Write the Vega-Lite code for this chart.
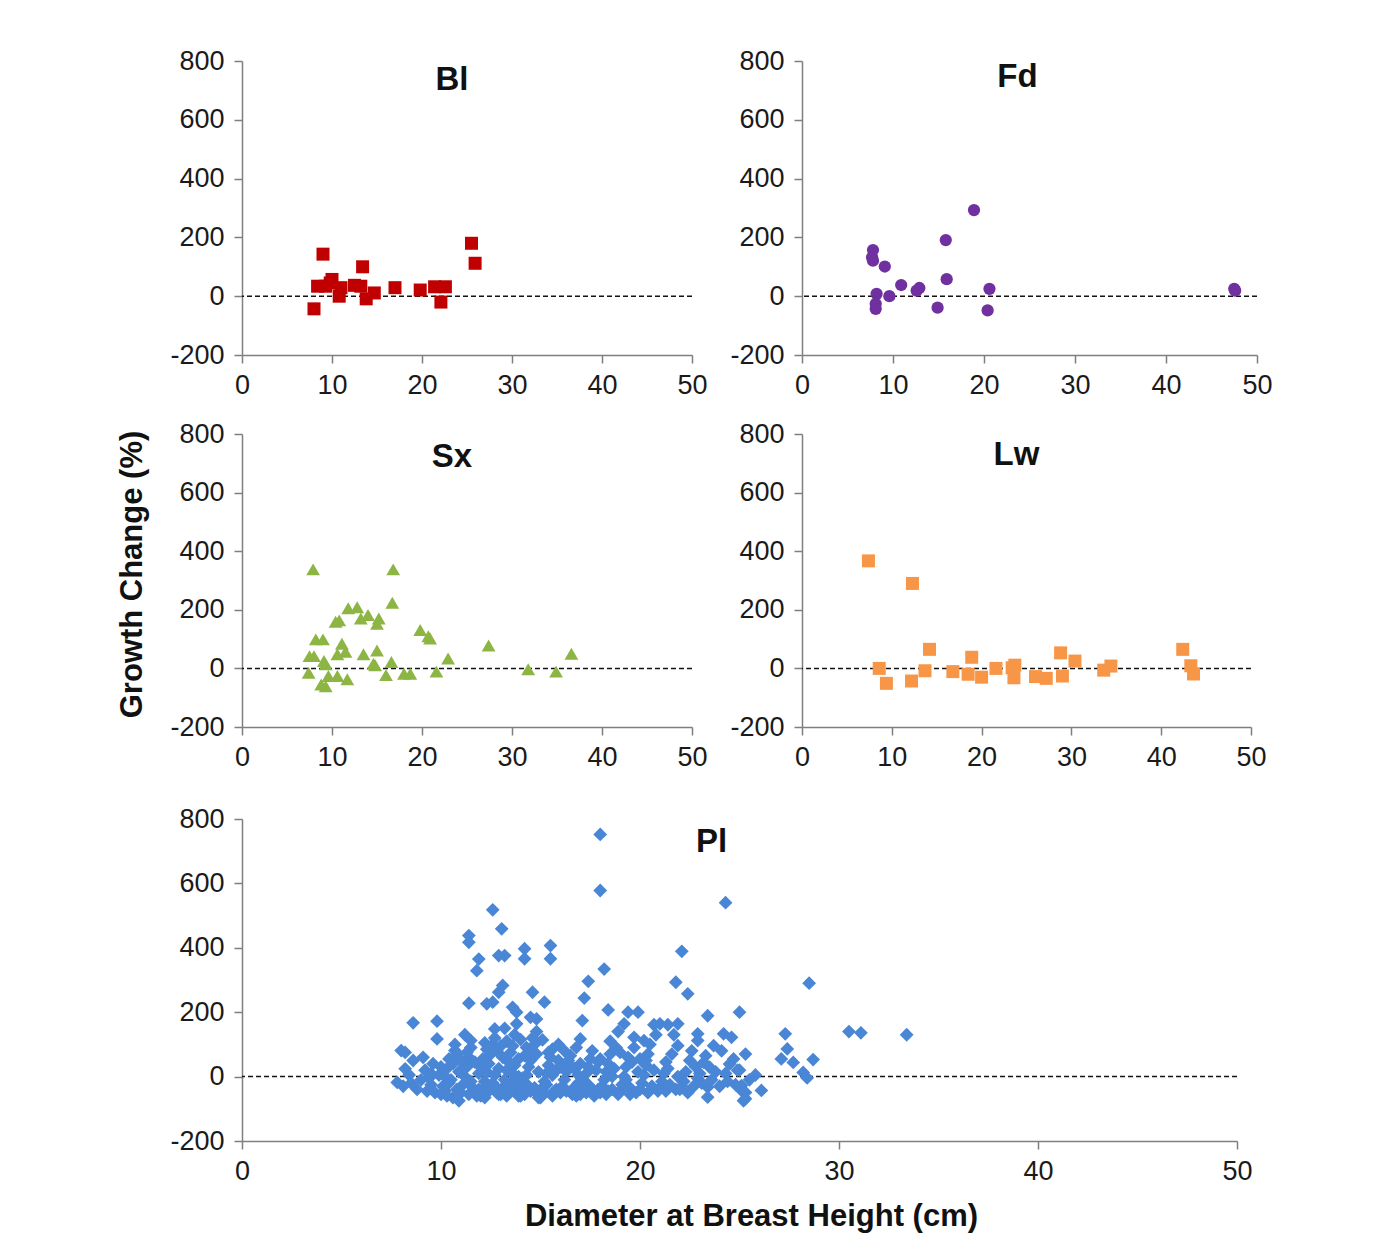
{
  "$schema": "https://vega.github.io/schema/vega-lite/v6.json",
  "background": "white",
  "padding": {"left": 115, "top": 47, "right": 20, "bottom": 20},
  "config": {
    "font": "Liberation Sans",
    "view": {"stroke": null},
    "axis": {"grid": false, "domainColor": "#7f7f7f", "domainWidth": 1.5, "tickColor": "#7f7f7f", "tickWidth": 1.5, "tickSize": 8, "labelFontSize": 27, "labelColor": "#1a1a1a", "labelFlush": false, "titleFontSize": 31, "titleFontWeight": "bold", "titleColor": "#111111"},
    "axisX": {"labelPadding": 9},
    "axisY": {"labelPadding": 10},
    "title": {"fontSize": 33, "fontWeight": "bold", "color": "#111111", "frame": "group", "baseline": "alphabetic"}
  },
  "datasets": {
    "bl": [
      {"dbh": 8.0, "gc": -43}, {"dbh": 9.0, "gc": 143}, {"dbh": 8.4, "gc": 34}, {"dbh": 9.3, "gc": 34}, {"dbh": 10.0, "gc": 57},
      {"dbh": 11.0, "gc": 29}, {"dbh": 10.8, "gc": 0}, {"dbh": 12.5, "gc": 37}, {"dbh": 13.4, "gc": 100}, {"dbh": 13.2, "gc": 34},
      {"dbh": 13.8, "gc": -9}, {"dbh": 14.7, "gc": 11}, {"dbh": 17.0, "gc": 29}, {"dbh": 19.8, "gc": 21}, {"dbh": 21.4, "gc": 32},
      {"dbh": 22.6, "gc": 32}, {"dbh": 22.1, "gc": -20}, {"dbh": 25.5, "gc": 180}, {"dbh": 25.9, "gc": 112}, {"dbh": 9.8, "gc": 45}
    ],
    "fd": [
      {"dbh": 7.8, "gc": 157}, {"dbh": 7.7, "gc": 132}, {"dbh": 7.8, "gc": 121}, {"dbh": 9.1, "gc": 101}, {"dbh": 8.2, "gc": 8},
      {"dbh": 8.1, "gc": -26}, {"dbh": 8.1, "gc": -43}, {"dbh": 9.6, "gc": 0}, {"dbh": 10.9, "gc": 38}, {"dbh": 12.6, "gc": 19},
      {"dbh": 12.9, "gc": 28}, {"dbh": 14.9, "gc": -39}, {"dbh": 15.8, "gc": 191}, {"dbh": 15.9, "gc": 58}, {"dbh": 18.9, "gc": 293},
      {"dbh": 20.6, "gc": 25}, {"dbh": 20.4, "gc": -48}, {"dbh": 47.5, "gc": 25}, {"dbh": 47.6, "gc": 19}
    ],
    "sx": [
      {"dbh": 7.9, "gc": 338}, {"dbh": 16.8, "gc": 338}, {"dbh": 16.7, "gc": 224}, {"dbh": 11.8, "gc": 205}, {"dbh": 12.8, "gc": 209},
      {"dbh": 13.2, "gc": 170}, {"dbh": 14.0, "gc": 182}, {"dbh": 15.2, "gc": 170}, {"dbh": 15.0, "gc": 152}, {"dbh": 10.4, "gc": 159},
      {"dbh": 10.8, "gc": 164}, {"dbh": 8.2, "gc": 99}, {"dbh": 9.0, "gc": 99}, {"dbh": 19.8, "gc": 131}, {"dbh": 20.7, "gc": 110},
      {"dbh": 20.9, "gc": 102}, {"dbh": 11.1, "gc": 84}, {"dbh": 11.5, "gc": 57}, {"dbh": 10.6, "gc": 48}, {"dbh": 7.5, "gc": 42},
      {"dbh": 8.0, "gc": 42}, {"dbh": 13.5, "gc": 48}, {"dbh": 15.0, "gc": 61}, {"dbh": 14.6, "gc": 16}, {"dbh": 14.8, "gc": 11},
      {"dbh": 16.6, "gc": 22}, {"dbh": 9.1, "gc": 25}, {"dbh": 9.3, "gc": 14}, {"dbh": 7.4, "gc": -15}, {"dbh": 9.6, "gc": -26},
      {"dbh": 10.6, "gc": -26}, {"dbh": 8.8, "gc": -55}, {"dbh": 9.3, "gc": -61}, {"dbh": 11.7, "gc": -37}, {"dbh": 16.0, "gc": -23},
      {"dbh": 18.0, "gc": -18}, {"dbh": 18.7, "gc": -18}, {"dbh": 21.6, "gc": -11}, {"dbh": 22.9, "gc": 34}, {"dbh": 27.4, "gc": 78},
      {"dbh": 31.8, "gc": -3}, {"dbh": 34.9, "gc": -11}, {"dbh": 36.6, "gc": 50}
    ],
    "lw": [
      {"dbh": 7.4, "gc": 367}, {"dbh": 12.3, "gc": 290}, {"dbh": 8.6, "gc": 0}, {"dbh": 9.4, "gc": -51}, {"dbh": 12.2, "gc": -43},
      {"dbh": 13.7, "gc": -8}, {"dbh": 14.2, "gc": 65}, {"dbh": 16.8, "gc": -11}, {"dbh": 18.5, "gc": -20}, {"dbh": 18.9, "gc": 38},
      {"dbh": 20.0, "gc": -30}, {"dbh": 21.6, "gc": 0}, {"dbh": 23.4, "gc": 2}, {"dbh": 23.7, "gc": 11}, {"dbh": 23.6, "gc": -32},
      {"dbh": 26.0, "gc": -28}, {"dbh": 27.2, "gc": -34}, {"dbh": 28.8, "gc": 53}, {"dbh": 29.0, "gc": -26}, {"dbh": 30.4, "gc": 25},
      {"dbh": 33.6, "gc": -6}, {"dbh": 34.4, "gc": 8}, {"dbh": 42.4, "gc": 65}, {"dbh": 43.3, "gc": 9}, {"dbh": 43.6, "gc": -19}
    ],
    "pl": [
      {"dbh": 18.0, "gc": 752}, {"dbh": 18.0, "gc": 578}, {"dbh": 24.3, "gc": 540}, {"dbh": 12.6, "gc": 518}, {"dbh": 13.05, "gc": 459},
      {"dbh": 11.4, "gc": 438}, {"dbh": 11.4, "gc": 417}, {"dbh": 11.9, "gc": 365}, {"dbh": 11.8, "gc": 329}, {"dbh": 12.9, "gc": 376},
      {"dbh": 13.2, "gc": 376}, {"dbh": 14.2, "gc": 397}, {"dbh": 14.2, "gc": 366}, {"dbh": 15.5, "gc": 407}, {"dbh": 15.5, "gc": 366},
      {"dbh": 18.2, "gc": 334}, {"dbh": 22.1, "gc": 389}, {"dbh": 21.8, "gc": 293}, {"dbh": 22.4, "gc": 257}, {"dbh": 28.5, "gc": 290},
      {"dbh": 17.4, "gc": 296}, {"dbh": 17.2, "gc": 244}, {"dbh": 17.1, "gc": 174}, {"dbh": 18.4, "gc": 207}, {"dbh": 19.4, "gc": 200},
      {"dbh": 19.9, "gc": 200}, {"dbh": 19.2, "gc": 164}, {"dbh": 13.1, "gc": 283}, {"dbh": 12.9, "gc": 262}, {"dbh": 12.6, "gc": 231},
      {"dbh": 12.3, "gc": 226}, {"dbh": 11.4, "gc": 228}, {"dbh": 13.6, "gc": 215}, {"dbh": 13.8, "gc": 200}, {"dbh": 14.6, "gc": 262},
      {"dbh": 15.2, "gc": 231}, {"dbh": 13.8, "gc": 164}, {"dbh": 14.5, "gc": 184}, {"dbh": 14.8, "gc": 179}, {"dbh": 8.6, "gc": 167},
      {"dbh": 9.8, "gc": 172}, {"dbh": 9.8, "gc": 117}, {"dbh": 8.0, "gc": 81}, {"dbh": 8.2, "gc": 75}, {"dbh": 12.7, "gc": 148},
      {"dbh": 15.1, "gc": 114}, {"dbh": 8.2, "gc": 24}, {"dbh": 7.8, "gc": -18}, {"dbh": 10.9, "gc": -75}, {"dbh": 23.4, "gc": 189},
      {"dbh": 25.0, "gc": 200}, {"dbh": 21.0, "gc": 164}, {"dbh": 21.4, "gc": 161}, {"dbh": 21.9, "gc": 164}, {"dbh": 22.9, "gc": 133},
      {"dbh": 22.9, "gc": 112}, {"dbh": 24.2, "gc": 133}, {"dbh": 24.6, "gc": 122}, {"dbh": 23.7, "gc": 96}, {"dbh": 21.9, "gc": 96},
      {"dbh": 25.3, "gc": 70}, {"dbh": 24.5, "gc": 39}, {"dbh": 23.2, "gc": 44}, {"dbh": 23.5, "gc": 29}, {"dbh": 23.4, "gc": -33},
      {"dbh": 23.4, "gc": -64}, {"dbh": 25.1, "gc": -43}, {"dbh": 25.2, "gc": -75}, {"dbh": 25.3, "gc": -49}, {"dbh": 25.3, "gc": -69},
      {"dbh": 26.1, "gc": -43}, {"dbh": 27.3, "gc": 133}, {"dbh": 27.4, "gc": 86}, {"dbh": 27.1, "gc": 55}, {"dbh": 27.7, "gc": 44},
      {"dbh": 28.7, "gc": 53}, {"dbh": 28.2, "gc": 13}, {"dbh": 28.4, "gc": -4}, {"dbh": 30.5, "gc": 140}, {"dbh": 31.1, "gc": 136},
      {"dbh": 33.4, "gc": 130}, {"dbh": 17.0, "gc": 117}, {"dbh": 18.5, "gc": 110}, {"dbh": 20.7, "gc": 161}, {"dbh": 19.7, "gc": 122},
      {"dbh": 20.2, "gc": 112}, {"dbh": 11.5, "gc": 112}, {"dbh": 10.7, "gc": 81},
      {"dbh": 8.1, "gc": -30}, {"dbh": 8.4, "gc": 5}, {"dbh": 8.6, "gc": 50}, {"dbh": 8.8, "gc": -40}, {"dbh": 9.0, "gc": -10},
      {"dbh": 9.2, "gc": 20}, {"dbh": 9.3, "gc": -45}, {"dbh": 9.5, "gc": -25}, {"dbh": 9.6, "gc": 40}, {"dbh": 9.7, "gc": -50},
      {"dbh": 9.9, "gc": 5}, {"dbh": 9.1, "gc": 60}, {"dbh": 8.5, "gc": -20}, {"dbh": 9.4, "gc": -5},
      {"dbh": 10.0, "gc": -55}, {"dbh": 10.1, "gc": -30}, {"dbh": 10.2, "gc": 0}, {"dbh": 10.3, "gc": 25}, {"dbh": 10.4, "gc": 55},
      {"dbh": 10.5, "gc": -10}, {"dbh": 10.6, "gc": 40}, {"dbh": 10.6, "gc": -65}, {"dbh": 10.7, "gc": 100}, {"dbh": 10.8, "gc": -40},
      {"dbh": 10.9, "gc": 15}, {"dbh": 10.2, "gc": -45}, {"dbh": 10.4, "gc": -20}, {"dbh": 10.8, "gc": 70},
      {"dbh": 11.0, "gc": -50}, {"dbh": 11.1, "gc": -25}, {"dbh": 11.2, "gc": 0}, {"dbh": 11.3, "gc": 30}, {"dbh": 11.4, "gc": 60},
      {"dbh": 11.5, "gc": 90}, {"dbh": 11.6, "gc": -35}, {"dbh": 11.7, "gc": 45}, {"dbh": 11.8, "gc": -60}, {"dbh": 11.9, "gc": 10},
      {"dbh": 11.2, "gc": 130}, {"dbh": 11.5, "gc": -15}, {"dbh": 11.0, "gc": 20}, {"dbh": 11.7, "gc": -45}, {"dbh": 11.3, "gc": 75},
      {"dbh": 12.0, "gc": -60}, {"dbh": 12.1, "gc": -40}, {"dbh": 12.2, "gc": -15}, {"dbh": 12.3, "gc": 15}, {"dbh": 12.4, "gc": 40},
      {"dbh": 12.5, "gc": 70}, {"dbh": 12.6, "gc": 100}, {"dbh": 12.7, "gc": 120}, {"dbh": 12.8, "gc": -50}, {"dbh": 12.9, "gc": 25},
      {"dbh": 12.1, "gc": 55}, {"dbh": 12.3, "gc": 85}, {"dbh": 12.5, "gc": -30}, {"dbh": 12.7, "gc": 5}, {"dbh": 12.9, "gc": -55},
      {"dbh": 12.2, "gc": 105}, {"dbh": 12.6, "gc": -20}, {"dbh": 12.4, "gc": -45},
      {"dbh": 13.0, "gc": -55}, {"dbh": 13.1, "gc": -35}, {"dbh": 13.2, "gc": -10}, {"dbh": 13.3, "gc": 20}, {"dbh": 13.4, "gc": 45},
      {"dbh": 13.5, "gc": 75}, {"dbh": 13.6, "gc": 95}, {"dbh": 13.7, "gc": 130}, {"dbh": 13.8, "gc": -45}, {"dbh": 13.9, "gc": 0},
      {"dbh": 13.1, "gc": 60}, {"dbh": 13.3, "gc": 110}, {"dbh": 13.5, "gc": -20}, {"dbh": 13.7, "gc": 35}, {"dbh": 13.2, "gc": 150},
      {"dbh": 13.9, "gc": -60}, {"dbh": 13.4, "gc": -50}, {"dbh": 13.6, "gc": 10},
      {"dbh": 14.0, "gc": -60}, {"dbh": 14.1, "gc": -40}, {"dbh": 14.2, "gc": -20}, {"dbh": 14.3, "gc": 5}, {"dbh": 14.4, "gc": 30},
      {"dbh": 14.5, "gc": 50}, {"dbh": 14.6, "gc": 80}, {"dbh": 14.7, "gc": 100}, {"dbh": 14.8, "gc": -50}, {"dbh": 14.9, "gc": 15},
      {"dbh": 14.2, "gc": 65}, {"dbh": 14.4, "gc": -30}, {"dbh": 14.6, "gc": 120}, {"dbh": 14.8, "gc": 140}, {"dbh": 14.1, "gc": -5},
      {"dbh": 14.9, "gc": -65}, {"dbh": 14.5, "gc": -45}, {"dbh": 14.3, "gc": 90},
      {"dbh": 15.0, "gc": -55}, {"dbh": 15.1, "gc": -35}, {"dbh": 15.2, "gc": -15}, {"dbh": 15.3, "gc": 10}, {"dbh": 15.4, "gc": 35},
      {"dbh": 15.5, "gc": 60}, {"dbh": 15.6, "gc": 85}, {"dbh": 15.7, "gc": -45}, {"dbh": 15.8, "gc": 20}, {"dbh": 15.9, "gc": 50},
      {"dbh": 15.3, "gc": -25}, {"dbh": 15.6, "gc": 5}, {"dbh": 15.0, "gc": -65}, {"dbh": 15.8, "gc": -40}, {"dbh": 15.4, "gc": 75},
      {"dbh": 16.0, "gc": -50}, {"dbh": 16.1, "gc": -30}, {"dbh": 16.2, "gc": -10}, {"dbh": 16.3, "gc": 15}, {"dbh": 16.4, "gc": 40},
      {"dbh": 16.5, "gc": 65}, {"dbh": 16.6, "gc": -40}, {"dbh": 16.7, "gc": 25}, {"dbh": 16.8, "gc": 90}, {"dbh": 16.9, "gc": -20},
      {"dbh": 16.4, "gc": 50}, {"dbh": 16.0, "gc": 30}, {"dbh": 16.6, "gc": -55},
      {"dbh": 17.0, "gc": -55}, {"dbh": 17.1, "gc": -35}, {"dbh": 17.2, "gc": -15}, {"dbh": 17.3, "gc": 10}, {"dbh": 17.4, "gc": 30},
      {"dbh": 17.5, "gc": 55}, {"dbh": 17.6, "gc": 80}, {"dbh": 17.7, "gc": -45}, {"dbh": 17.8, "gc": 20}, {"dbh": 17.9, "gc": 45},
      {"dbh": 17.4, "gc": -25}, {"dbh": 17.7, "gc": -60},
      {"dbh": 18.0, "gc": -50}, {"dbh": 18.1, "gc": -30}, {"dbh": 18.2, "gc": -10}, {"dbh": 18.3, "gc": 15}, {"dbh": 18.4, "gc": 40},
      {"dbh": 18.5, "gc": 70}, {"dbh": 18.6, "gc": -40}, {"dbh": 18.7, "gc": 25}, {"dbh": 18.8, "gc": 90}, {"dbh": 18.9, "gc": 140},
      {"dbh": 18.3, "gc": -55}, {"dbh": 18.6, "gc": 0},
      {"dbh": 19.0, "gc": -45}, {"dbh": 19.1, "gc": -25}, {"dbh": 19.2, "gc": 0}, {"dbh": 19.3, "gc": 30}, {"dbh": 19.4, "gc": 60},
      {"dbh": 19.5, "gc": -35}, {"dbh": 19.6, "gc": 45}, {"dbh": 19.7, "gc": 90}, {"dbh": 19.8, "gc": -50}, {"dbh": 19.9, "gc": 15},
      {"dbh": 19.3, "gc": -10},
      {"dbh": 20.0, "gc": -40}, {"dbh": 20.1, "gc": -20}, {"dbh": 20.2, "gc": 5}, {"dbh": 20.3, "gc": 35}, {"dbh": 20.4, "gc": 70},
      {"dbh": 20.5, "gc": 100}, {"dbh": 20.6, "gc": -30}, {"dbh": 20.7, "gc": 20}, {"dbh": 20.8, "gc": 130}, {"dbh": 20.9, "gc": -45},
      {"dbh": 20.3, "gc": 50},
      {"dbh": 21.0, "gc": -35}, {"dbh": 21.1, "gc": -15}, {"dbh": 21.2, "gc": 10}, {"dbh": 21.3, "gc": 45}, {"dbh": 21.5, "gc": -25},
      {"dbh": 21.6, "gc": 70}, {"dbh": 21.7, "gc": 130}, {"dbh": 21.8, "gc": -40}, {"dbh": 21.4, "gc": 25}, {"dbh": 21.9, "gc": 0},
      {"dbh": 22.0, "gc": -40}, {"dbh": 22.2, "gc": -15}, {"dbh": 22.3, "gc": 15}, {"dbh": 22.5, "gc": 50}, {"dbh": 22.6, "gc": 80},
      {"dbh": 22.7, "gc": -30}, {"dbh": 22.8, "gc": 30}, {"dbh": 22.4, "gc": -50}, {"dbh": 22.9, "gc": -5},
      {"dbh": 23.0, "gc": 10}, {"dbh": 23.1, "gc": -20}, {"dbh": 23.3, "gc": 65}, {"dbh": 23.6, "gc": -10}, {"dbh": 23.8, "gc": 15},
      {"dbh": 24.0, "gc": -30}, {"dbh": 24.1, "gc": 80}, {"dbh": 24.3, "gc": 10}, {"dbh": 24.4, "gc": -15}, {"dbh": 24.7, "gc": 55},
      {"dbh": 24.8, "gc": -25}, {"dbh": 24.9, "gc": 20}, {"dbh": 25.0, "gc": 20}, {"dbh": 25.1, "gc": -28}, {"dbh": 25.5, "gc": -10},
      {"dbh": 25.8, "gc": 5},
      {"dbh": 10.3, "gc": -60}, {"dbh": 10.9, "gc": -50}, {"dbh": 11.4, "gc": -55}, {"dbh": 11.9, "gc": -40}, {"dbh": 12.2, "gc": -65},
      {"dbh": 12.8, "gc": -35}, {"dbh": 13.3, "gc": -60}, {"dbh": 13.7, "gc": -25}, {"dbh": 14.2, "gc": -55}, {"dbh": 14.7, "gc": -35},
      {"dbh": 15.2, "gc": -50}, {"dbh": 15.6, "gc": -60}, {"dbh": 16.3, "gc": -45}, {"dbh": 16.8, "gc": -60}, {"dbh": 17.3, "gc": -50},
      {"dbh": 17.9, "gc": -40}, {"dbh": 18.4, "gc": -45}, {"dbh": 18.9, "gc": -55}, {"dbh": 19.5, "gc": -55}, {"dbh": 20.4, "gc": -50},
      {"dbh": 21.3, "gc": -45}, {"dbh": 22.1, "gc": -30}, {"dbh": 11.0, "gc": 50}, {"dbh": 12.0, "gc": 30}, {"dbh": 12.8, "gc": 80},
      {"dbh": 13.9, "gc": 55}, {"dbh": 14.8, "gc": 70}, {"dbh": 15.9, "gc": 100}, {"dbh": 16.2, "gc": 80}, {"dbh": 17.0, "gc": 40},
      {"dbh": 18.0, "gc": 55}, {"dbh": 10.0, "gc": 30}, {"dbh": 9.5, "gc": 10}, {"dbh": 13.0, "gc": 95}, {"dbh": 14.0, "gc": 115},
      {"dbh": 16.9, "gc": 5}, {"dbh": 19.0, "gc": 75}, {"dbh": 20.0, "gc": 55}
    ]
  },
  "vconcat": [
    {
      "vconcat": [
        {
          "hconcat": [
            {
              "width": 450, "height": 294,
              "title": {"text": "Bl", "offset": -50, "dx": -15},
              "layer": [
                {"data": {"values": [{}]}, "mark": {"type": "rule", "strokeDash": [5, 3], "color": "#111111", "strokeWidth": 1.5}, "encoding": {"y": {"datum": 0, "type": "quantitative"}}},
                {"data": {"name": "bl"}, "mark": {"type": "square", "color": "#c00000", "size": 169, "opacity": 1},
                 "encoding": {
                   "x": {"field": "dbh", "type": "quantitative", "scale": {"domain": [0, 50], "nice": false}, "axis": {"values": [0, 10, 20, 30, 40, 50], "title": null}},
                   "y": {"field": "gc", "type": "quantitative", "scale": {"domain": [-200, 800], "nice": false}, "axis": {"values": [-200, 0, 200, 400, 600, 800], "title": null, "labelExpr": "datum.value < 0 ? '-' + format(-datum.value, 'd') : format(datum.value, 'd')"}}
                 }}
              ]
            },
            {
              "width": 455, "height": 294,
              "title": {"text": "Fd", "offset": -47, "dx": -12},
              "layer": [
                {"data": {"values": [{}]}, "mark": {"type": "rule", "strokeDash": [5, 3], "color": "#111111", "strokeWidth": 1.5}, "encoding": {"y": {"datum": 0, "type": "quantitative"}}},
                {"data": {"name": "fd"}, "mark": {"type": "circle", "color": "#7030a0", "size": 150, "opacity": 1},
                 "encoding": {
                   "x": {"field": "dbh", "type": "quantitative", "scale": {"domain": [0, 50], "nice": false}, "axis": {"values": [0, 10, 20, 30, 40, 50], "title": null}},
                   "y": {"field": "gc", "type": "quantitative", "scale": {"domain": [-200, 800], "nice": false}, "axis": {"values": [-200, 0, 200, 400, 600, 800], "title": null, "labelExpr": "datum.value < 0 ? '-' + format(-datum.value, 'd') : format(datum.value, 'd')"}}
                 }}
              ]
            }
          ],
          "spacing": 21
        },
        {
          "hconcat": [
            {
              "width": 450, "height": 293,
              "title": {"text": "Sx", "offset": -54, "dx": -15},
              "layer": [
                {"data": {"values": [{}]}, "mark": {"type": "rule", "strokeDash": [5, 3], "color": "#111111", "strokeWidth": 1.5}, "encoding": {"y": {"datum": 0, "type": "quantitative"}}},
                {"data": {"name": "sx"}, "mark": {"type": "point", "shape": "triangle-up", "filled": true, "color": "#8db544", "size": 190, "opacity": 1},
                 "encoding": {
                   "x": {"field": "dbh", "type": "quantitative", "scale": {"domain": [0, 50], "nice": false}, "axis": {"values": [0, 10, 20, 30, 40, 50], "title": null}},
                   "y": {"field": "gc", "type": "quantitative", "scale": {"domain": [-200, 800], "nice": false}, "axis": {"values": [-200, 0, 200, 400, 600, 800], "title": "Growth Change (%)", "titleX": -94, "titleY": 140, "labelExpr": "datum.value < 0 ? '-' + format(-datum.value, 'd') : format(datum.value, 'd')"}}
                 }}
              ]
            },
            {
              "width": 449, "height": 293,
              "title": {"text": "Lw", "offset": -52, "dx": -10},
              "layer": [
                {"data": {"values": [{}]}, "mark": {"type": "rule", "strokeDash": [5, 3], "color": "#111111", "strokeWidth": 1.5}, "encoding": {"y": {"datum": 0, "type": "quantitative"}}},
                {"data": {"name": "lw"}, "mark": {"type": "square", "color": "#f79646", "size": 169, "opacity": 1},
                 "encoding": {
                   "x": {"field": "dbh", "type": "quantitative", "scale": {"domain": [0, 50], "nice": false}, "axis": {"values": [0, 10, 20, 30, 40, 50], "title": null}},
                   "y": {"field": "gc", "type": "quantitative", "scale": {"domain": [-200, 800], "nice": false}, "axis": {"values": [-200, 0, 200, 400, 600, 800], "title": null, "labelExpr": "datum.value < 0 ? '-' + format(-datum.value, 'd') : format(datum.value, 'd')"}}
                 }}
              ]
            }
          ],
          "spacing": 21
        }
      ],
      "spacing": 22
    },
    {
      "width": 995, "height": 322,
      "title": {"text": "Pl", "offset": -54, "dx": -28},
      "layer": [
        {"data": {"values": [{}]}, "mark": {"type": "rule", "strokeDash": [5, 3], "color": "#111111", "strokeWidth": 1.5}, "encoding": {"y": {"datum": 0, "type": "quantitative"}}},
        {"data": {"name": "pl"}, "mark": {"type": "point", "shape": "diamond", "filled": true, "color": "#4a86d6", "size": 190, "opacity": 1},
         "encoding": {
           "x": {"field": "dbh", "type": "quantitative", "scale": {"domain": [0, 50], "nice": false}, "axis": {"values": [0, 10, 20, 30, 40, 50], "title": "Diameter at Breast Height (cm)", "titleX": 509, "titlePadding": 17}},
           "y": {"field": "gc", "type": "quantitative", "scale": {"domain": [-200, 800], "nice": false}, "axis": {"values": [-200, 0, 200, 400, 600, 800], "title": null, "labelExpr": "datum.value < 0 ? '-' + format(-datum.value, 'd') : format(datum.value, 'd')"}}
         }}
      ]
    }
  ],
  "spacing": 35
}
